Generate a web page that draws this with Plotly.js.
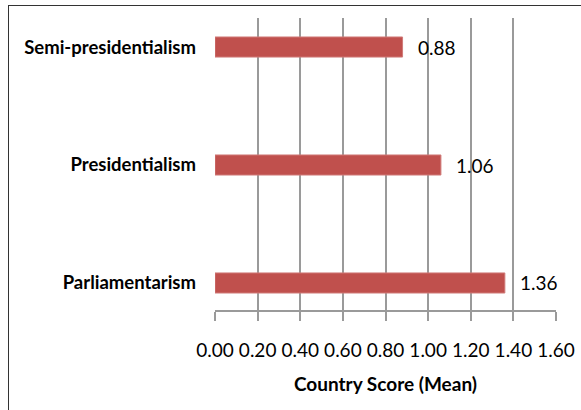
<!DOCTYPE html>
<html><head><meta charset="utf-8">
<script src="https://cdn.plot.ly/plotly-3.0.1.min.js"></script>
<style>
html,body{margin:0;padding:0;background:#fff;overflow:hidden;}
#frame{position:absolute;left:8px;top:5px;width:700px;height:500px;border-left:1px solid #333;border-top:1px solid #333;}
#chart{position:absolute;left:0;top:0;width:581px;height:410px;}
</style></head>
<body>
<div id="frame"></div>
<div id="chart"></div>
<script>
const categories = ["Parliamentarism", "Presidentialism", "Semi-presidentialism"];
const values = [1.36, 1.06, 0.88];
const valueLabels = ["1.36", "1.06", "0.88"];
const tickVals = [0, 0.2, 0.4, 0.6, 0.8, 1.0, 1.2, 1.4, 1.6];
const tickText = ["0.00", "0.20", "0.40", "0.60", "0.80", "1.00", "1.20", "1.40", "1.60"];

const FONT = "Lato, 'Open Sans', sans-serif";

const trace = {
  type: "bar",
  orientation: "h",
  y: categories,
  x: values,
  width: 0.17,
  marker: {color: "#C0504D", line: {color: "#D07A78", width: 1}},
  hoverinfo: "none"
};

const annotations = values.map((v, i) => ({
  x: v, y: categories[i], xref: "x", yref: "y",
  text: valueLabels[i], showarrow: false,
  xanchor: "left", xshift: 13,
  font: {family: FONT, size: 19, color: "#000"}
}));

const layout = {
  width: 581, height: 410,
  margin: {l: 215, r: 25, t: 18, b: 100, pad: 0},
  paper_bgcolor: "rgba(0,0,0,0)",
  plot_bgcolor: "rgba(0,0,0,0)",
  showlegend: false,
  xaxis: {
    range: [0, 1.6],
    tickvals: tickVals, ticktext: tickText,
    showgrid: true, gridcolor: "#9A9A9A", gridwidth: 2,
    zeroline: false,
    showline: true, linecolor: "#9A9A9A", linewidth: 2,
    ticks: "outside", ticklen: 9, tickwidth: 2, tickcolor: "#9A9A9A",
    ticklabelstandoff: 13,
    tickfont: {family: FONT, size: 19, color: "#000"},
    title: {text: "<b>Country Score (Mean)</b>", font: {family: FONT, size: 19, color: "#000"}, standoff: 18},
    fixedrange: true
  },
  yaxis: {
    type: "category",
    categoryarray: categories,
    range: [-0.229, 2.246],
    showgrid: false, zeroline: false, showline: false,
    ticks: "", ticklabelstandoff: 18,
    tickfont: {family: FONT, size: 18.5, color: "#000", weight: "bold"},
    fixedrange: true
  },
  annotations: annotations
};

Plotly.newPlot("chart", [trace], layout, {displayModeBar: false, staticPlot: true});
</script>
</body></html>
